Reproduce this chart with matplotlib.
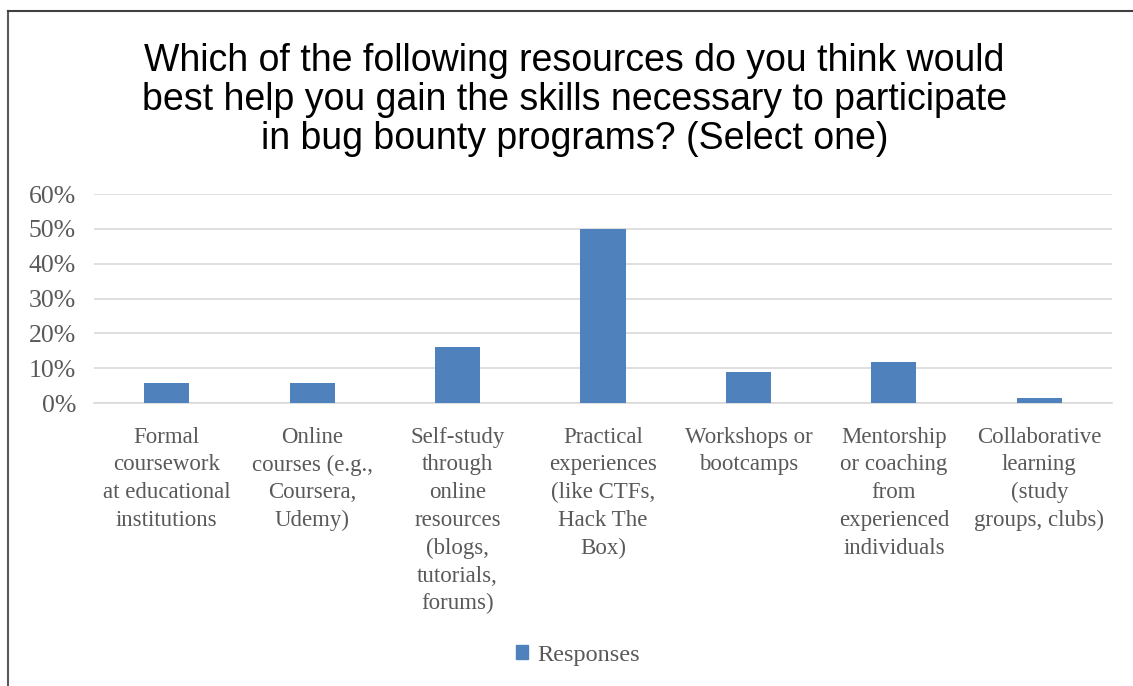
import matplotlib
matplotlib.use("Agg")
import matplotlib.pyplot as plt
from matplotlib.patches import Patch
from matplotlib.lines import Line2D
from matplotlib.ticker import PercentFormatter

# survey answers, 68 respondents
categories = [
    "Formal\ncoursework\nat educational\ninstitutions",
    "Online\ncourses (e.g.,\nCoursera,\nUdemy)",
    "Self-study\nthrough\nonline\nresources\n(blogs,\ntutorials,\nforums)",
    "Practical\nexperiences\n(like CTFs,\nHack The\nBox)",
    "Workshops or\nbootcamps",
    "Mentorship\nor coaching\nfrom\nexperienced\nindividuals",
    "Collaborative\nlearning\n(study\ngroups, clubs)",
]
counts = [4, 4, 11, 34, 6, 8, 1]
total = 68
shares = [c / total for c in counts]

title = ("Which of the following resources do you think would\n"
         "best help you gain the skills necessary to participate\n"
         "in bug bounty programs? (Select one)")

bar_color = "#4F81BD"
text_gray = "#595959"
serif = ["Liberation Serif", "DejaVu Serif"]

fig = plt.figure(figsize=(11.33, 6.86), dpi=100)
ax = fig.add_axes([0.083, 0.4125, 0.8985, 0.3047])

x = range(len(categories))
ax.bar(x, shares, width=0.31, color=bar_color, zorder=3)

ax.set_ylim(0, 0.6)
ax.set_xlim(-0.5, len(categories) - 0.5)
ax.set_yticks([0, 0.1, 0.2, 0.3, 0.4, 0.5, 0.6])
ax.yaxis.set_major_formatter(PercentFormatter(1.0, decimals=0))
ax.grid(axis="y", color="#D9D9D9", linewidth=1.2, zorder=0)
for side in ["top", "right", "left"]:
    ax.spines[side].set_visible(False)
ax.spines["bottom"].set_color("#D9D9D9")
ax.spines["bottom"].set_linewidth(1.2)
ax.tick_params(axis="both", length=0, colors=text_gray)
ax.tick_params(axis="y", pad=13)
ax.tick_params(axis="x", pad=17)

ax.set_xticks(list(x))
ax.set_xticklabels(categories, fontsize=16.5, family=serif, linespacing=1.42,
                   color=text_gray, va="top")
for lbl in ax.get_yticklabels():
    lbl.set_fontsize(18.5)
    lbl.set_family(serif)

fig.text(0.507, 0.938, title, ha="center", va="top", fontsize=27,
         family=["Liberation Sans", "DejaVu Sans"], color="black",
         linespacing=1.12)

fig.legend(handles=[Patch(color=bar_color, label="Responses")],
           loc="center", bbox_to_anchor=(0.51, 0.045), frameon=False,
           handlelength=0.5, handleheight=0.5, handletextpad=0.35,
           prop={"family": serif, "size": 17.5}, labelcolor=text_gray)

# chart border on the left and top edges
fig.add_artist(Line2D([7.5 / 1133, 7.5 / 1133], [0, 1 - 11 / 686],
                      transform=fig.transFigure, color="#595959", lw=1.5))
fig.add_artist(Line2D([7.5 / 1133, 1], [1 - 11 / 686, 1 - 11 / 686],
                      transform=fig.transFigure, color="#404040", lw=1.5))

fig.savefig("out.png", dpi=100, facecolor="white")
